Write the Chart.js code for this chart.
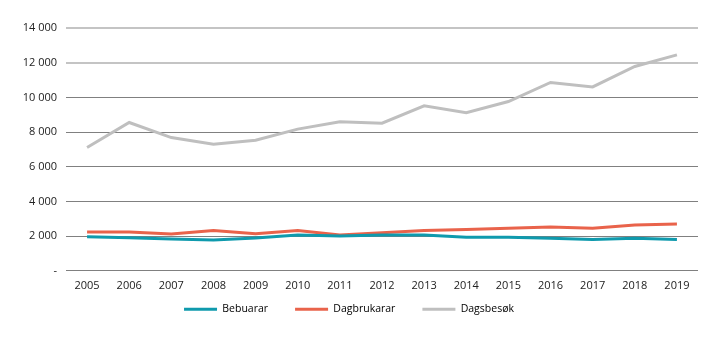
<!DOCTYPE html>
<html>
<head>
<meta charset="utf-8">
<script src="https://cdn.jsdelivr.net/npm/chart.js@4"></script>
<style>
html,body{margin:0;padding:0;background:#fff;}
#wrap{width:719px;height:341px;position:relative;}
</style>
</head>
<body>
<div id="wrap"><canvas id="c" width="719" height="341"></canvas></div>
<script>
const years = ["2005","2006","2007","2008","2009","2010","2011","2012","2013","2014","2015","2016","2017","2018","2019"];
const bebuarar = [1960,1910,1830,1770,1890,2060,2000,2060,2070,1930,1930,1870,1800,1880,1800];
const dagbrukarar = [2240,2240,2120,2320,2140,2320,2060,2200,2330,2380,2450,2520,2450,2640,2700];
const dagsbesok = [7110,8550,7680,7300,7530,8170,8600,8510,9510,9120,9760,10860,10600,11780,12450];
const seriesNames = ["Bebuarar","Dagbrukarar","Dagsbesøk"];
const seriesColors = ["#0f9aad","#e9634b","#bfbfbf"];

const font = {family:"'Open Sans', 'Noto Sans', sans-serif", size:11};
const legendFont = {family:"'Open Sans', 'Noto Sans', sans-serif", size:10.5};
Chart.defaults.font = font;
Chart.defaults.color = "#222";

const LEGEND_GAP = 27;      // horizontal gap between legend items
const LEGEND_HEIGHT = 41;   // reserved height for legend box
const LEGEND_SHIFT = -23;   // vertical offset of legend drawing

const legendTweak = {
  id: 'legendTweak',
  beforeLayout(chart) {
    const lg = chart.legend;
    if (!lg || lg._tweaked) return;
    lg._tweaked = true;
    const origFit = lg.fit.bind(lg);
    lg.fit = function () { origFit(); this.height = LEGEND_HEIGHT; };
    const origDraw = lg.draw.bind(lg);
    lg.draw = function () {
      const t = this.top, b = this.bottom;
      this.top = t + LEGEND_SHIFT; this.bottom = b + LEGEND_SHIFT;
      origDraw();
      this.top = t; this.bottom = b;
    };
  }
};

new Chart(document.getElementById('c'), {
  type: 'line',
  plugins: [legendTweak],
  data: {
    labels: years,
    datasets: [bebuarar, dagbrukarar, dagsbesok].map((d, i) => ({
      label: seriesNames[i],
      data: d,
      borderColor: seriesColors[i],
      backgroundColor: seriesColors[i],
      borderWidth: 3,
      pointRadius: 0,
      tension: 0
    }))
  },
  options: {
    responsive: false,
    animation: false,
    layout: {padding: {top: 28, right: 21, left: 0, bottom: 0}},
    plugins: {
      tooltip: {enabled: false},
      legend: {
        position: 'bottom',
        labels: {
          boxWidth: 33,
          boxHeight: 3,
          padding: LEGEND_GAP,
          font: legendFont,
          generateLabels: (chart) => chart.data.datasets.map((ds, i) => ({
            text: ds.label,
            fillStyle: ds.borderColor,
            strokeStyle: ds.borderColor,
            lineWidth: 0,
            datasetIndex: i
          }))
        }
      }
    },
    scales: {
      x: {
        offset: true,
        grid: {display: false, drawTicks: false},
        border: {display: false},
        ticks: {padding: 8, maxRotation: 0}
      },
      y: {
        min: 0, max: 14000,
        afterFit: (s) => { s.width = 66; },
        border: {display: false},
        grid: {
          drawTicks: false,
          color: (ctx) => (ctx.tick && ctx.tick.value >= 12000) ? '#c4c4c4' : '#808080',
          lineWidth: (ctx) => (ctx.tick && ctx.tick.value >= 12000) ? 2 : 1
        },
        ticks: {
          stepSize: 2000,
          padding: 9,
          callback: (v) => v === 0 ? '-' : String(v).replace(/\B(?=(\d{3})+(?!\d))/g, ' ')
        }
      }
    }
  }
});
</script>
</body>
</html>
